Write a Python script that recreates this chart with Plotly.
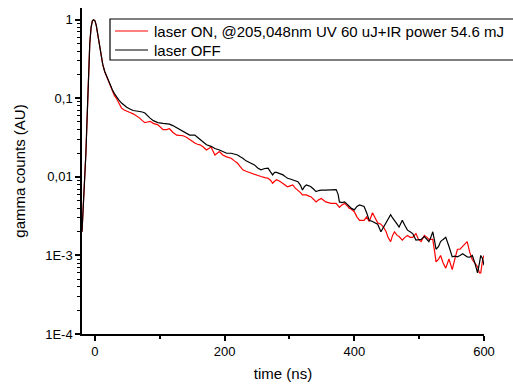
import plotly.graph_objects as go

time_ns = [
    -20, -18, -16, -14, -12, -10, -8, -6, -4, -2,
    0, 2, 4, 6, 8, 10, 12, 15, 18, 21,
    24, 27, 30, 33, 37, 41, 45, 49, 54, 59,
    64, 69, 73, 77, 81, 85, 90, 97, 105, 110,
    115, 120, 126, 131, 136, 141, 146, 150, 154, 158,
    162, 167, 172, 179, 185, 192, 197, 203, 210, 215,
    220, 224, 228, 233, 238, 242, 246, 251, 256, 262,
    267, 271, 274, 277, 280, 285, 290, 294, 297, 301,
    305, 309, 313, 317, 320, 323, 326, 330, 333, 337,
    341, 345, 349, 356, 364, 372, 375, 377, 381, 385,
    390, 392, 395, 400, 404, 408, 412, 415, 419, 423,
    428, 432, 436, 441, 445, 449, 452, 456, 459, 462,
    466, 469, 472, 474, 478, 482, 486, 490, 495, 499,
    503, 508, 512, 515, 518, 521, 524, 526, 530, 533,
    537, 541, 546, 551, 555, 559, 563, 567, 571, 574,
    578, 582, 586, 590, 593, 595, 598, 600,
]

laser_on = [
    0.002, 0.004, 0.009, 0.02, 0.06, 0.2, 0.5, 0.8, 0.97, 1.0,
    0.97, 0.85, 0.68, 0.52, 0.41, 0.33, 0.27, 0.22, 0.19, 0.16,
    0.14, 0.12, 0.108, 0.100, 0.085, 0.075, 0.071, 0.068, 0.066, 0.0635,
    0.060, 0.056, 0.052, 0.049, 0.050, 0.051, 0.048, 0.046, 0.040, 0.040,
    0.041, 0.037, 0.034, 0.034, 0.0334, 0.032, 0.030, 0.028, 0.027, 0.026,
    0.0256, 0.024, 0.022, 0.024, 0.019, 0.021, 0.019, 0.018, 0.0173, 0.016,
    0.0149, 0.0135, 0.0123, 0.0118, 0.0114, 0.011, 0.0106, 0.0103, 0.0101, 0.0098,
    0.0096, 0.009, 0.0083, 0.0088, 0.0092, 0.0088, 0.0083, 0.0078, 0.0075, 0.0077,
    0.0079, 0.0072, 0.0068, 0.0063, 0.0059, 0.0059, 0.0059, 0.0057, 0.0056, 0.0052,
    0.0048, 0.0051, 0.0053, 0.0048, 0.0046, 0.0046, 0.0043, 0.0041, 0.0044, 0.0046,
    0.0042, 0.0040, 0.0039, 0.0036, 0.0031, 0.0028, 0.0028, 0.0028, 0.0031, 0.0027,
    0.0035, 0.0030, 0.0026, 0.0025, 0.0023, 0.0020, 0.0017, 0.0015, 0.0018, 0.0020,
    0.0018, 0.00174, 0.0016, 0.00157, 0.0017, 0.0018, 0.0017, 0.0017, 0.0019, 0.0016,
    0.0015, 0.0018, 0.0017, 0.0016, 0.0016, 0.0016, 0.0011, 0.00083, 0.0009, 0.0010,
    0.0008, 0.00069, 0.0009, 0.00066, 0.0009, 0.0012, 0.0012, 0.0013, 0.0014, 0.0015,
    0.0011, 0.00088, 0.0008, 0.00072, 0.0006, 0.0006, 0.0009, 0.0010,
]

laser_off = [
    0.002, 0.004, 0.008, 0.02, 0.06, 0.2, 0.5, 0.8, 0.97, 1.0,
    0.97, 0.85, 0.68, 0.52, 0.41, 0.33, 0.27, 0.22, 0.19, 0.165,
    0.148, 0.128, 0.115, 0.105, 0.095, 0.087, 0.081, 0.077, 0.073, 0.070,
    0.069, 0.068, 0.067, 0.065, 0.060, 0.056, 0.052, 0.049, 0.048, 0.048,
    0.047, 0.045, 0.042, 0.040, 0.038, 0.036, 0.034, 0.034, 0.034, 0.032,
    0.030, 0.028, 0.0256, 0.0245, 0.023, 0.022, 0.021, 0.020, 0.020, 0.0195,
    0.019, 0.018, 0.0173, 0.016, 0.0152, 0.0145, 0.0142, 0.013, 0.0123, 0.0128,
    0.0129, 0.0115, 0.0106, 0.0114, 0.0114, 0.011, 0.0106, 0.010, 0.0096, 0.0094,
    0.0092, 0.009, 0.0087, 0.0078, 0.0068, 0.0075, 0.0079, 0.0077, 0.0075, 0.0070,
    0.0065, 0.0067, 0.0068, 0.0068, 0.0068, 0.0069, 0.006, 0.0048, 0.0047, 0.0048,
    0.0044, 0.0042, 0.0040, 0.0038, 0.0042, 0.0044, 0.0043, 0.0042, 0.0035, 0.0028,
    0.0027, 0.0026, 0.0025, 0.0020, 0.0023, 0.0026, 0.0030, 0.0033, 0.0030, 0.0028,
    0.0025, 0.0023, 0.0026, 0.0028, 0.0024, 0.0021, 0.0020, 0.0019, 0.00157, 0.0016,
    0.0016, 0.00174, 0.0016, 0.0015, 0.0017, 0.0020, 0.0015, 0.0012, 0.0013, 0.0015,
    0.0016, 0.0017, 0.0013, 0.00096, 0.00098, 0.00096, 0.0010, 0.00105, 0.0010, 0.00096,
    0.00095, 0.0010, 0.0008, 0.0006, 0.0008, 0.0010, 0.0009, 0.00075,
]

series_names = ["laser ON, @205,048nm UV 60 uJ+IR power 54.6 mJ", "laser OFF"]
series_colors = ["#ff0000", "#000000"]

y_tick_vals = [1e-4, 1e-3, 1e-2, 1e-1, 1]
y_tick_text = ["1E-4", "1E-3", "0,01", "0,1", "1"]
x_tick_vals = [0, 200, 400, 600]
y_minor_vals = [m * 10.0 ** e for e in range(-4, 1) for m in range(2, 10) if m * 10.0 ** e < 1.4]

FONT = "Liberation Sans, Arial, sans-serif"

# plot area geometry (pixels)
W, H = 513, 384
ML, MR, MT, MB = 82, 29, 8, 50
PW, PH = W - ML - MR, H - MT - MB


def px(xp):
    return (xp - ML) / PW


def py(yp):
    return (H - MB - yp) / PH


fig = go.Figure()
for name, vals, col in zip(series_names, [laser_on, laser_off], series_colors):
    fig.add_trace(go.Scatter(
        x=time_ns, y=vals, mode="lines", name=name,
        line=dict(color=col, width=1.2),
    ))

# legend box drawn manually (it runs off the right edge in the original)
shapes = [dict(type="rect", xref="paper", yref="paper",
               x0=px(110), x1=px(530), y0=py(60), y1=py(19),
               line=dict(color="black", width=1.2), fillcolor="white", layer="above")]
annotations = []
for i, (name, col) in enumerate(zip(series_names, series_colors)):
    yrow = 31 + i * 19
    shapes.append(dict(type="line", xref="paper", yref="paper",
                       x0=px(115), x1=px(148), y0=py(yrow), y1=py(yrow),
                       line=dict(color=col, width=1.2), layer="above"))
    annotations.append(dict(xref="paper", yref="paper", x=px(152), y=py(yrow),
                            xanchor="left", yanchor="middle", text=name,
                            showarrow=False, font=dict(size=15, family=FONT, color="black")))

fig.update_layout(
    width=W, height=H,
    margin=dict(l=ML, r=MR, t=MT, b=MB, autoexpand=False),
    paper_bgcolor="white", plot_bgcolor="white",
    font=dict(family=FONT, color="black", size=13),
    showlegend=False,
    shapes=shapes, annotations=annotations,
    xaxis=dict(
        range=[-20, 600], showgrid=False, zeroline=False,
        showline=True, linecolor="black", linewidth=1.5,
        ticks="outside", ticklen=5, tickwidth=1.5, tickcolor="black",
        tickvals=x_tick_vals, tickfont=dict(size=13),
        minor=dict(ticks="outside", ticklen=3, tickwidth=1.5, tickcolor="black",
                   tickvals=[100, 300, 500]),
        title=dict(text="time (ns)", font=dict(size=15), standoff=10),
    ),
    yaxis=dict(
        type="log", range=[-4, 0.15], showgrid=False, zeroline=False,
        showline=True, linecolor="black", linewidth=1.5,
        ticks="outside", ticklen=5, tickwidth=1.5, tickcolor="black",
        tickvals=y_tick_vals, ticktext=y_tick_text, tickfont=dict(size=13),
        minor=dict(ticks="outside", ticklen=3, tickwidth=1, tickcolor="black",
                   tickvals=y_minor_vals),
        title=dict(text="gamma counts (AU)", font=dict(size=15), standoff=16),
    ),
)

fig.write_html("out.html")
